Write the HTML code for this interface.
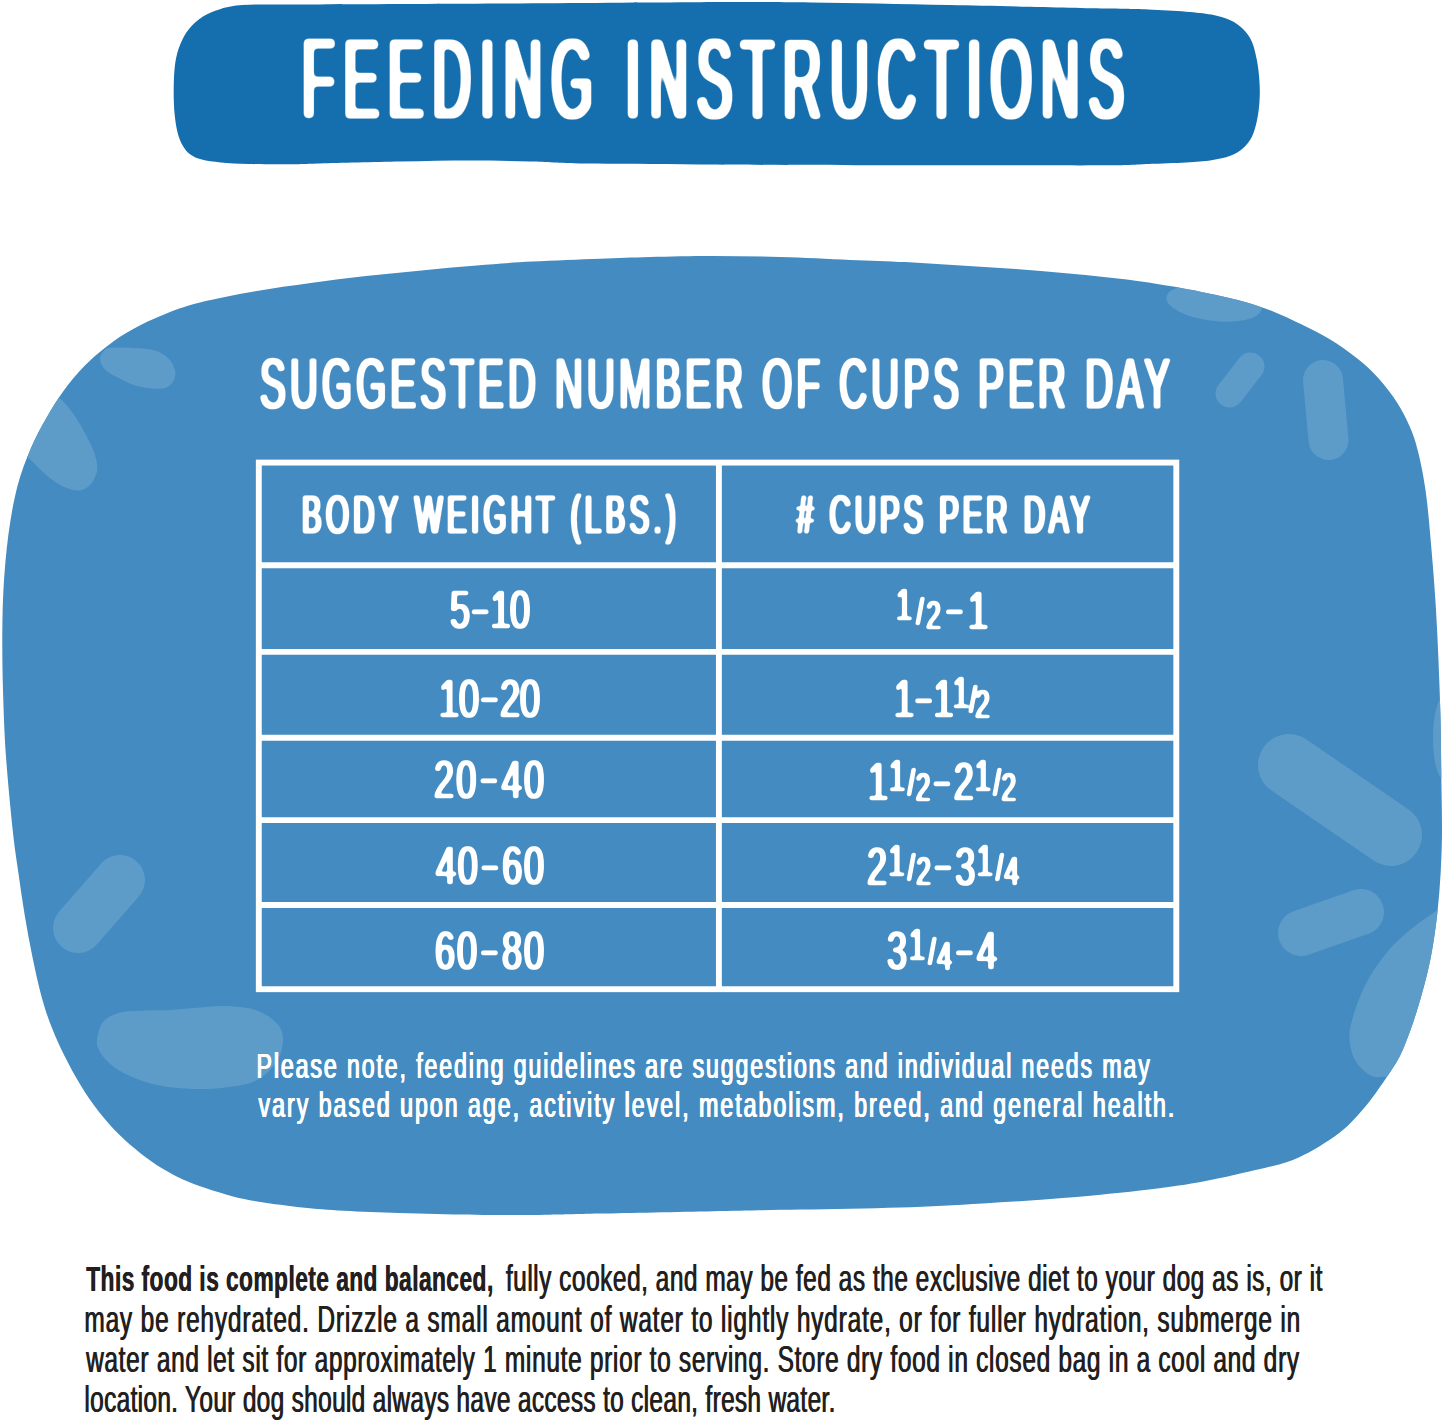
<!DOCTYPE html>
<html lang="en">
<head>
<meta charset="utf-8">
<title>Feeding Instructions</title>
<style>
html,body{margin:0;padding:0;background:#fff}
svg{display:block}
</style>
</head>
<body>
<svg width="1445" height="1421" viewBox="0 0 1445 1421" font-family='"Liberation Sans", sans-serif' xml:space="preserve">
<defs>
<filter id="hb3" x="-5%" y="-25%" width="110%" height="150%"><feMorphology operator="dilate" radius="2 0"/><feGaussianBlur stdDeviation="2"/><feComponentTransfer><feFuncA type="linear" slope="5" intercept="-1.5"/></feComponentTransfer></filter>
<filter id="hb2" x="-5%" y="-25%" width="110%" height="150%"><feMorphology operator="dilate" radius="1.3 0.2"/><feGaussianBlur stdDeviation="1.2"/><feComponentTransfer><feFuncA type="linear" slope="3.2" intercept="-0.46"/></feComponentTransfer></filter>
<filter id="hb1" x="-5%" y="-25%" width="110%" height="150%"><feMorphology operator="dilate" radius="1.3 0.2"/><feGaussianBlur stdDeviation="1.2"/><feComponentTransfer><feFuncA type="linear" slope="3.2" intercept="-0.8"/></feComponentTransfer></filter>
<filter id="pb" x="-5%" y="-25%" width="110%" height="150%"><feMorphology operator="dilate" radius="0.45 0"/></filter>
<clipPath id="blobclip"><path d="M713.0 256.0 C734.7 256.0 757.2 256.4 780.0 257.0 C802.8 257.6 829.1 259.0 850.0 259.9 C870.9 260.8 886.9 261.2 905.4 262.1 C923.9 263.0 942.3 264.4 960.7 265.5 C979.1 266.6 997.5 267.6 1016.0 269.0 C1034.5 270.4 1053.0 272.0 1071.5 273.8 C1090.0 275.6 1108.3 277.2 1126.8 279.6 C1145.2 282.0 1167.5 285.7 1182.2 288.2 C1196.9 290.7 1204.5 292.5 1215.0 294.8 C1225.5 297.1 1235.3 299.2 1245.0 302.0 C1254.7 304.8 1263.7 307.8 1273.1 311.5 C1282.5 315.2 1291.9 319.7 1301.3 324.3 C1310.7 328.9 1320.0 333.4 1329.4 339.1 C1338.8 344.9 1349.4 352.2 1357.6 358.8 C1365.8 365.4 1372.1 371.2 1378.7 378.5 C1385.3 385.8 1391.8 394.4 1397.0 402.4 C1402.2 410.4 1406.2 418.2 1409.7 426.4 C1413.2 434.6 1415.4 440.7 1418.1 451.7 C1420.8 462.7 1423.6 476.1 1425.8 492.2 C1428.0 508.3 1429.8 529.7 1431.4 548.5 C1433.1 567.3 1434.5 586.0 1435.7 604.8 C1436.9 623.5 1437.7 642.2 1438.5 661.0 C1439.3 679.8 1440.0 698.6 1440.5 717.4 C1441.0 736.2 1441.0 754.9 1441.3 773.7 C1441.5 792.5 1442.1 813.6 1442.0 830.0 C1441.9 846.4 1441.5 858.1 1440.7 872.2 C1439.9 886.3 1438.8 900.3 1437.2 914.4 C1435.6 928.5 1433.4 943.8 1430.9 956.7 C1428.4 969.6 1425.7 980.0 1422.4 991.9 C1419.1 1003.8 1415.0 1017.3 1411.2 1028.0 C1407.4 1038.7 1403.8 1048.2 1399.8 1056.3 C1395.8 1064.4 1391.7 1069.7 1387.0 1076.7 C1382.3 1083.7 1376.6 1092.0 1371.7 1098.5 C1366.8 1105.0 1362.3 1110.2 1357.6 1115.4 C1352.9 1120.6 1348.2 1125.4 1343.5 1129.5 C1338.8 1133.6 1335.3 1136.1 1329.4 1140.0 C1323.5 1143.9 1315.3 1149.0 1308.3 1152.7 C1301.3 1156.4 1295.2 1159.2 1287.2 1161.9 C1279.2 1164.6 1273.8 1165.8 1260.0 1169.0 C1246.2 1172.2 1223.0 1177.8 1204.5 1181.2 C1186.0 1184.6 1172.1 1186.7 1149.0 1189.5 C1125.9 1192.3 1093.7 1195.5 1066.0 1197.8 C1038.3 1200.1 1010.7 1201.8 983.0 1203.4 C955.3 1205.0 930.5 1206.5 900.0 1207.5 C869.5 1208.5 831.2 1209.0 800.0 1209.6 C768.8 1210.2 746.3 1210.5 713.0 1211.2 C679.7 1211.9 627.2 1213.0 600.0 1213.6 C572.8 1214.2 565.0 1214.5 550.0 1214.7 C535.0 1214.9 525.9 1215.0 510.0 1215.0 C494.1 1215.0 473.0 1214.7 454.5 1214.4 C436.0 1214.1 417.4 1213.6 399.0 1213.0 C380.6 1212.4 359.9 1211.7 343.8 1210.8 C327.7 1209.9 316.1 1209.0 302.2 1207.5 C288.3 1206.0 272.2 1203.8 260.7 1202.0 C249.2 1200.2 242.2 1198.7 233.0 1196.4 C223.8 1194.1 213.7 1190.9 205.4 1188.1 C197.1 1185.3 190.2 1182.7 183.0 1179.4 C175.8 1176.1 169.0 1172.5 161.9 1168.2 C154.8 1163.9 147.8 1158.9 140.7 1153.4 C133.6 1147.9 126.6 1142.1 119.6 1135.1 C112.6 1128.1 105.1 1119.7 98.5 1111.2 C91.9 1102.8 85.8 1093.6 80.2 1084.4 C74.6 1075.2 69.4 1065.7 64.7 1056.3 C60.0 1046.9 55.8 1037.6 52.0 1028.0 C48.2 1018.4 45.5 1010.8 42.2 998.9 C38.9 987.0 35.3 970.8 32.4 956.7 C29.5 942.6 27.0 928.5 24.6 914.4 C22.2 900.3 20.3 886.3 18.3 872.2 C16.3 858.1 14.7 848.8 12.7 830.0 C10.7 811.2 7.8 780.8 6.2 759.6 C4.7 738.4 4.0 721.8 3.4 703.0 C2.8 684.2 2.3 665.7 2.3 647.0 C2.3 628.3 2.4 609.5 3.4 590.7 C4.4 571.9 6.1 551.9 8.4 534.4 C10.8 516.9 13.7 500.4 17.5 486.0 C21.3 471.6 26.2 459.4 31.0 448.0 C35.8 436.6 41.0 427.4 46.4 417.9 C51.8 408.4 57.0 399.9 63.3 391.2 C69.6 382.5 76.2 374.1 84.4 365.9 C92.6 357.7 103.2 348.7 112.6 341.9 C122.0 335.1 131.3 329.9 140.7 325.0 C150.1 320.1 159.0 316.2 168.9 312.4 C178.8 308.6 185.6 305.9 200.0 302.4 C214.4 298.9 237.0 294.4 255.4 291.2 C273.9 287.9 292.3 285.4 310.7 282.9 C329.1 280.4 347.5 278.1 366.0 276.0 C384.5 273.9 403.0 272.1 421.5 270.4 C440.0 268.6 458.4 267.0 476.8 265.5 C495.2 264.0 511.7 262.7 532.2 261.6 C552.7 260.5 580.4 259.6 600.0 258.8 C619.6 258.0 631.2 257.5 650.0 257.0 C668.8 256.5 691.3 256.0 713.0 256.0Z"/></clipPath>
</defs>
<rect width="1445" height="1421" fill="#fff"/>
<!-- header banner -->
<path id="banner" fill="#156fae" d="M320.0 4.4 C357.7 4.2 436.7 3.9 500.0 3.5 C563.3 3.1 648.2 2.4 700.0 2.2 C751.8 2.0 769.3 2.0 811.0 2.5 C852.7 3.0 900.2 4.0 950.0 5.0 C999.8 6.0 1077.0 7.8 1110.0 8.6 C1143.0 9.3 1135.3 9.0 1148.0 9.5 C1160.7 10.0 1175.5 10.8 1186.0 11.7 C1196.5 12.5 1203.9 13.2 1211.3 14.6 C1218.7 16.0 1225.0 17.9 1230.3 20.3 C1235.6 22.7 1239.4 25.4 1243.0 29.0 C1246.6 32.6 1249.6 36.5 1251.9 41.8 C1254.2 47.1 1255.7 54.0 1257.0 60.8 C1258.3 67.5 1259.1 75.5 1259.5 82.3 C1259.9 89.0 1259.9 95.0 1259.5 101.3 C1259.1 107.6 1258.3 114.4 1257.0 120.3 C1255.7 126.2 1254.2 132.2 1251.9 136.8 C1249.6 141.5 1246.6 145.0 1243.0 148.2 C1239.4 151.4 1235.6 153.8 1230.3 155.8 C1225.0 157.8 1218.7 159.1 1211.3 160.2 C1203.9 161.3 1196.5 161.9 1186.0 162.5 C1175.5 163.1 1160.7 163.5 1148.0 164.0 C1135.3 164.5 1134.7 165.1 1110.0 165.3 C1085.3 165.5 1040.5 165.3 1000.0 165.3 C959.5 165.3 917.0 165.4 867.0 165.3 C817.0 165.2 747.2 164.8 700.0 164.5 C652.8 164.2 612.3 164.1 584.0 163.6 C555.7 163.1 549.0 162.1 530.0 161.6 C511.0 161.1 491.7 160.5 470.0 160.5 C448.3 160.5 425.0 161.0 400.0 161.5 C375.0 162.0 338.9 162.9 320.0 163.4 C301.1 163.9 298.6 164.2 286.7 164.3 C274.8 164.4 259.7 164.3 248.7 164.0 C237.7 163.7 228.6 163.1 220.8 162.4 C213.0 161.7 206.9 160.9 201.8 159.6 C196.7 158.3 193.6 156.8 190.4 154.5 C187.2 152.2 184.9 149.3 182.8 145.7 C180.7 142.1 179.1 138.3 177.7 133.0 C176.3 127.7 175.3 121.4 174.6 114.0 C173.9 106.6 173.6 97.2 173.7 88.7 C173.8 80.2 174.1 70.7 175.2 63.3 C176.3 55.9 178.0 50.0 180.3 44.3 C182.6 38.6 185.2 33.6 189.0 29.0 C192.8 24.4 197.7 19.9 203.0 16.5 C208.3 13.2 214.2 10.8 220.8 8.9 C227.4 7.0 233.4 5.8 242.3 5.1 C251.2 4.3 261.1 4.5 274.0 4.4 C286.9 4.3 282.3 4.6 320.0 4.4Z"/>
<!-- blob -->
<path id="blob" fill="#438bc0" d="M713.0 256.0 C734.7 256.0 757.2 256.4 780.0 257.0 C802.8 257.6 829.1 259.0 850.0 259.9 C870.9 260.8 886.9 261.2 905.4 262.1 C923.9 263.0 942.3 264.4 960.7 265.5 C979.1 266.6 997.5 267.6 1016.0 269.0 C1034.5 270.4 1053.0 272.0 1071.5 273.8 C1090.0 275.6 1108.3 277.2 1126.8 279.6 C1145.2 282.0 1167.5 285.7 1182.2 288.2 C1196.9 290.7 1204.5 292.5 1215.0 294.8 C1225.5 297.1 1235.3 299.2 1245.0 302.0 C1254.7 304.8 1263.7 307.8 1273.1 311.5 C1282.5 315.2 1291.9 319.7 1301.3 324.3 C1310.7 328.9 1320.0 333.4 1329.4 339.1 C1338.8 344.9 1349.4 352.2 1357.6 358.8 C1365.8 365.4 1372.1 371.2 1378.7 378.5 C1385.3 385.8 1391.8 394.4 1397.0 402.4 C1402.2 410.4 1406.2 418.2 1409.7 426.4 C1413.2 434.6 1415.4 440.7 1418.1 451.7 C1420.8 462.7 1423.6 476.1 1425.8 492.2 C1428.0 508.3 1429.8 529.7 1431.4 548.5 C1433.1 567.3 1434.5 586.0 1435.7 604.8 C1436.9 623.5 1437.7 642.2 1438.5 661.0 C1439.3 679.8 1440.0 698.6 1440.5 717.4 C1441.0 736.2 1441.0 754.9 1441.3 773.7 C1441.5 792.5 1442.1 813.6 1442.0 830.0 C1441.9 846.4 1441.5 858.1 1440.7 872.2 C1439.9 886.3 1438.8 900.3 1437.2 914.4 C1435.6 928.5 1433.4 943.8 1430.9 956.7 C1428.4 969.6 1425.7 980.0 1422.4 991.9 C1419.1 1003.8 1415.0 1017.3 1411.2 1028.0 C1407.4 1038.7 1403.8 1048.2 1399.8 1056.3 C1395.8 1064.4 1391.7 1069.7 1387.0 1076.7 C1382.3 1083.7 1376.6 1092.0 1371.7 1098.5 C1366.8 1105.0 1362.3 1110.2 1357.6 1115.4 C1352.9 1120.6 1348.2 1125.4 1343.5 1129.5 C1338.8 1133.6 1335.3 1136.1 1329.4 1140.0 C1323.5 1143.9 1315.3 1149.0 1308.3 1152.7 C1301.3 1156.4 1295.2 1159.2 1287.2 1161.9 C1279.2 1164.6 1273.8 1165.8 1260.0 1169.0 C1246.2 1172.2 1223.0 1177.8 1204.5 1181.2 C1186.0 1184.6 1172.1 1186.7 1149.0 1189.5 C1125.9 1192.3 1093.7 1195.5 1066.0 1197.8 C1038.3 1200.1 1010.7 1201.8 983.0 1203.4 C955.3 1205.0 930.5 1206.5 900.0 1207.5 C869.5 1208.5 831.2 1209.0 800.0 1209.6 C768.8 1210.2 746.3 1210.5 713.0 1211.2 C679.7 1211.9 627.2 1213.0 600.0 1213.6 C572.8 1214.2 565.0 1214.5 550.0 1214.7 C535.0 1214.9 525.9 1215.0 510.0 1215.0 C494.1 1215.0 473.0 1214.7 454.5 1214.4 C436.0 1214.1 417.4 1213.6 399.0 1213.0 C380.6 1212.4 359.9 1211.7 343.8 1210.8 C327.7 1209.9 316.1 1209.0 302.2 1207.5 C288.3 1206.0 272.2 1203.8 260.7 1202.0 C249.2 1200.2 242.2 1198.7 233.0 1196.4 C223.8 1194.1 213.7 1190.9 205.4 1188.1 C197.1 1185.3 190.2 1182.7 183.0 1179.4 C175.8 1176.1 169.0 1172.5 161.9 1168.2 C154.8 1163.9 147.8 1158.9 140.7 1153.4 C133.6 1147.9 126.6 1142.1 119.6 1135.1 C112.6 1128.1 105.1 1119.7 98.5 1111.2 C91.9 1102.8 85.8 1093.6 80.2 1084.4 C74.6 1075.2 69.4 1065.7 64.7 1056.3 C60.0 1046.9 55.8 1037.6 52.0 1028.0 C48.2 1018.4 45.5 1010.8 42.2 998.9 C38.9 987.0 35.3 970.8 32.4 956.7 C29.5 942.6 27.0 928.5 24.6 914.4 C22.2 900.3 20.3 886.3 18.3 872.2 C16.3 858.1 14.7 848.8 12.7 830.0 C10.7 811.2 7.8 780.8 6.2 759.6 C4.7 738.4 4.0 721.8 3.4 703.0 C2.8 684.2 2.3 665.7 2.3 647.0 C2.3 628.3 2.4 609.5 3.4 590.7 C4.4 571.9 6.1 551.9 8.4 534.4 C10.8 516.9 13.7 500.4 17.5 486.0 C21.3 471.6 26.2 459.4 31.0 448.0 C35.8 436.6 41.0 427.4 46.4 417.9 C51.8 408.4 57.0 399.9 63.3 391.2 C69.6 382.5 76.2 374.1 84.4 365.9 C92.6 357.7 103.2 348.7 112.6 341.9 C122.0 335.1 131.3 329.9 140.7 325.0 C150.1 320.1 159.0 316.2 168.9 312.4 C178.8 308.6 185.6 305.9 200.0 302.4 C214.4 298.9 237.0 294.4 255.4 291.2 C273.9 287.9 292.3 285.4 310.7 282.9 C329.1 280.4 347.5 278.1 366.0 276.0 C384.5 273.9 403.0 272.1 421.5 270.4 C440.0 268.6 458.4 267.0 476.8 265.5 C495.2 264.0 511.7 262.7 532.2 261.6 C552.7 260.5 580.4 259.6 600.0 258.8 C619.6 258.0 631.2 257.5 650.0 257.0 C668.8 256.5 691.3 256.0 713.0 256.0Z"/>
<g clip-path="url(#blobclip)" fill="#5d9cc8" stroke="#5d9cc8" stroke-linecap="round">
<path stroke="none" d="M100.0 358.8 C100.0 355.8 102.1 352.3 104.2 350.4 C106.3 348.5 107.7 348.0 112.6 347.6 C117.5 347.2 126.7 347.5 133.7 348.0 C140.7 348.5 148.9 348.6 154.8 350.4 C160.7 352.2 165.5 355.3 168.9 358.8 C172.3 362.3 174.5 367.8 175.2 371.5 C175.9 375.2 174.6 378.6 173.1 381.3 C171.6 384.0 169.5 386.5 166.0 387.7 C162.5 388.9 157.4 388.9 152.0 388.4 C146.6 387.9 139.6 386.8 133.7 384.9 C127.8 383.0 121.7 379.8 116.8 377.1 C111.9 374.4 107.0 371.8 104.2 368.7 C101.4 365.6 100.0 361.9 100.0 358.8Z"/>
<path stroke="none" d="M56.0 396.0 C61.0 398.0 67.0 405.5 72.0 412.0 C77.0 418.5 82.2 427.8 86.0 435.0 C89.8 442.2 93.2 449.0 95.0 455.0 C96.8 461.0 97.8 466.0 97.0 471.0 C96.2 476.0 93.0 481.8 90.0 485.0 C87.0 488.2 83.7 490.3 79.0 490.5 C74.3 490.7 67.7 488.8 62.0 486.0 C56.3 483.2 49.8 478.0 45.0 474.0 C40.2 470.0 36.8 466.3 33.0 462.0 C29.2 457.7 22.8 455.0 22.0 448.0 C21.2 441.0 24.7 428.0 28.0 420.0 C31.3 412.0 37.3 404.0 42.0 400.0 C46.7 396.0 51.0 394.0 56.0 396.0Z"/>
<ellipse cx="1214" cy="303" rx="48" ry="18" transform="rotate(7 1214 303)" stroke="none"/>
<line x1="1229.5" y1="393.5" x2="1250.5" y2="366.5" stroke-width="28"/>
<line x1="1323" y1="380" x2="1328.5" y2="440" stroke-width="40"/>
<line x1="78" y1="928" x2="120" y2="880" stroke-width="50"/>
<path stroke="none" d="M97.0 1040.0 C97.7 1035.3 99.2 1026.5 103.0 1022.0 C106.8 1017.5 112.6 1014.6 119.6 1012.7 C126.6 1010.8 136.8 1011.0 145.0 1010.5 C153.2 1010.0 159.8 1010.5 169.0 1010.0 C178.2 1009.5 190.7 1008.2 200.0 1007.5 C209.3 1006.8 216.7 1005.8 225.0 1006.0 C233.3 1006.2 242.9 1006.9 250.0 1008.5 C257.1 1010.1 262.6 1012.9 267.4 1015.8 C272.2 1018.7 276.4 1022.3 279.0 1026.0 C281.6 1029.7 282.8 1033.2 283.0 1038.0 C283.2 1042.8 282.2 1049.7 280.0 1055.0 C277.8 1060.3 274.5 1065.5 270.0 1070.0 C265.5 1074.5 260.5 1079.1 253.0 1082.0 C245.5 1084.9 234.3 1086.3 225.0 1087.5 C215.7 1088.7 207.0 1089.2 197.0 1089.0 C187.0 1088.8 174.3 1087.9 165.0 1086.5 C155.7 1085.1 148.5 1083.1 141.0 1080.5 C133.5 1077.9 125.7 1074.2 120.0 1071.0 C114.3 1067.8 110.5 1064.5 107.0 1061.0 C103.5 1057.5 100.7 1053.5 99.0 1050.0 C97.3 1046.5 96.3 1044.7 97.0 1040.0Z"/>
<line x1="1289" y1="765" x2="1391" y2="835" stroke-width="62"/>
<line x1="1301" y1="933" x2="1361" y2="912" stroke-width="46"/>
<path stroke="none" d="M1445.0 900.0 C1441.2 893.3 1441.9 905.7 1437.0 910.0 C1432.1 914.3 1422.5 920.0 1415.4 925.7 C1408.3 931.4 1400.6 937.5 1394.3 944.0 C1388.0 950.5 1382.6 957.5 1377.4 965.0 C1372.2 972.5 1367.5 979.8 1363.3 989.0 C1359.1 998.2 1354.3 1011.5 1352.0 1020.0 C1349.7 1028.5 1349.0 1033.3 1349.5 1040.0 C1350.0 1046.7 1351.9 1054.3 1355.0 1060.0 C1358.1 1065.7 1363.7 1071.2 1368.0 1074.0 C1372.3 1076.8 1375.7 1077.7 1381.0 1077.0 C1386.3 1076.3 1391.8 1077.8 1400.0 1070.0 C1408.2 1062.2 1420.0 1050.0 1430.0 1030.0 C1440.0 1010.0 1457.5 971.7 1460.0 950.0 C1462.5 928.3 1448.8 906.7 1445.0 900.0Z"/>
<ellipse cx="1443.5" cy="738" rx="10.5" ry="41" stroke="none"/>
</g>
<!-- table -->
<g fill="none" stroke="#fff" stroke-width="5.9">
<rect x="258.8" y="462.6" width="917.5" height="526.6"/>
<line x1="718.9" y1="462.6" x2="718.9" y2="989.2"/>
<line x1="258.8" y1="565.2" x2="1176.3" y2="565.2"/>
<line x1="258.8" y1="651.9" x2="1176.3" y2="651.9"/>
<line x1="258.8" y1="737.8" x2="1176.3" y2="737.8"/>
<line x1="258.8" y1="820.1" x2="1176.3" y2="820.1"/>
<line x1="258.8" y1="905" x2="1176.3" y2="905"/>
</g>
<g filter="url(#hb3)"><text id="h1" transform="translate(302.00 118.30) scale(0.4700 1)" font-size="113" font-weight="400" fill="#fff" letter-spacing="19.36">FEEDING INSTRUCTIONS</text></g>
<g filter="url(#hb2)"><text id="h2" transform="translate(260.00 408.20) scale(0.5450 1)" font-size="70.5" font-weight="400" fill="#fff" letter-spacing="7.91">SUGGESTED NUMBER OF CUPS PER DAY</text></g>
<g filter="url(#hb2)"><text id="th1" transform="translate(302.00 533.30) scale(0.5400 1)" font-size="54.5" font-weight="400" fill="#fff" letter-spacing="8.08">BODY WEIGHT (LBS.)</text></g>
<g filter="url(#hb2)"><text id="th2" transform="translate(797.00 533.30) scale(0.5400 1)" font-size="54.5" font-weight="400" fill="#fff" letter-spacing="7.34"># CUPS PER DAY</text></g>
<g filter="url(#hb1)"><text id="a1" transform="translate(450.00 628.20) scale(0.6600 1)" font-size="54.5" font-weight="400" fill="#fff" letter-spacing="-0.62"><tspan font-size="54.5" font-weight="400">5</tspan><tspan font-size="43.1" font-weight="700" dy="-5.67" dx="4.09">&#8211;</tspan><tspan font-size="54.5" font-weight="400" dy="5.67" dx="4.09">1</tspan><tspan font-size="54.5" font-weight="400">0</tspan></text></g>
<g filter="url(#hb1)"><text id="a2" transform="translate(439.00 716.70) scale(0.6600 1)" font-size="54.5" font-weight="400" fill="#fff" letter-spacing="-0.09"><tspan font-size="54.5" font-weight="400">1</tspan><tspan font-size="54.5" font-weight="400">0</tspan><tspan font-size="43.1" font-weight="700" dy="-5.67" dx="4.09">&#8211;</tspan><tspan font-size="54.5" font-weight="400" dy="5.67" dx="4.09">2</tspan><tspan font-size="54.5" font-weight="400">0</tspan></text></g>
<g filter="url(#hb1)"><text id="a3" transform="translate(434.00 797.70) scale(0.6600 1)" font-size="54.5" font-weight="400" fill="#fff" letter-spacing="3.32"><tspan font-size="54.5" font-weight="400">2</tspan><tspan font-size="54.5" font-weight="400">0</tspan><tspan font-size="43.1" font-weight="700" dy="-5.67" dx="4.09">&#8211;</tspan><tspan font-size="54.5" font-weight="400" dy="5.67" dx="4.09">4</tspan><tspan font-size="54.5" font-weight="400">0</tspan></text></g>
<g filter="url(#hb1)"><text id="a4" transform="translate(436.00 884.20) scale(0.6600 1)" font-size="54.5" font-weight="400" fill="#fff" letter-spacing="2.56"><tspan font-size="54.5" font-weight="400">4</tspan><tspan font-size="54.5" font-weight="400">0</tspan><tspan font-size="43.1" font-weight="700" dy="-5.67" dx="4.09">&#8211;</tspan><tspan font-size="54.5" font-weight="400" dy="5.67" dx="4.09">6</tspan><tspan font-size="54.5" font-weight="400">0</tspan></text></g>
<g filter="url(#hb1)"><text id="a5" transform="translate(435.00 969.20) scale(0.6600 1)" font-size="54.5" font-weight="400" fill="#fff" letter-spacing="2.94"><tspan font-size="54.5" font-weight="400">6</tspan><tspan font-size="54.5" font-weight="400">0</tspan><tspan font-size="43.1" font-weight="700" dy="-5.67" dx="4.09">&#8211;</tspan><tspan font-size="54.5" font-weight="400" dy="5.67" dx="4.09">8</tspan><tspan font-size="54.5" font-weight="400">0</tspan></text></g>
<g filter="url(#hb1)"><text id="b1" transform="translate(896.00 628.70) scale(0.6600 1)" font-size="54.5" font-weight="400" fill="#fff" letter-spacing="4.44"><tspan font-size="43.6" font-weight="400" dy="-8.99">1</tspan><tspan font-size="39.2" font-weight="400" dy="5.18" dx="2.45">/</tspan><tspan font-size="39.8" font-weight="400" dy="4.36" dx="-0.55">2</tspan><tspan font-size="43.1" font-weight="700" dy="-6.21" dx="4.09">&#8211;</tspan><tspan font-size="54.5" font-weight="400" dy="5.67" dx="4.09">1</tspan></text></g>
<g filter="url(#hb1)"><text id="b2" transform="translate(894.00 717.20) scale(0.6600 1)" font-size="54.5" font-weight="400" fill="#fff" letter-spacing="-1.30"><tspan font-size="54.5" font-weight="400">1</tspan><tspan font-size="43.1" font-weight="700" dy="-5.67" dx="4.09">&#8211;</tspan><tspan font-size="54.5" font-weight="400" dy="5.67" dx="4.09">1</tspan><tspan font-size="43.6" font-weight="400" dy="-8.99">1</tspan><tspan font-size="39.2" font-weight="400" dy="5.18" dx="2.45">/</tspan><tspan font-size="39.8" font-weight="400" dy="4.36" dx="-0.55">2</tspan></text></g>
<g filter="url(#hb1)"><text id="b3" transform="translate(868.00 800.20) scale(0.6600 1)" font-size="54.5" font-weight="400" fill="#fff" letter-spacing="1.64"><tspan font-size="54.5" font-weight="400">1</tspan><tspan font-size="43.6" font-weight="400" dy="-8.99">1</tspan><tspan font-size="39.2" font-weight="400" dy="5.18" dx="2.45">/</tspan><tspan font-size="39.8" font-weight="400" dy="4.36" dx="-0.55">2</tspan><tspan font-size="43.1" font-weight="700" dy="-6.21" dx="4.09">&#8211;</tspan><tspan font-size="54.5" font-weight="400" dy="5.67" dx="4.09">2</tspan><tspan font-size="43.6" font-weight="400" dy="-8.99">1</tspan><tspan font-size="39.2" font-weight="400" dy="5.18" dx="2.45">/</tspan><tspan font-size="39.8" font-weight="400" dy="4.36" dx="-0.55">2</tspan></text></g>
<g filter="url(#hb1)"><text id="b4" transform="translate(867.00 884.70) scale(0.6600 1)" font-size="54.5" font-weight="400" fill="#fff" letter-spacing="2.40"><tspan font-size="54.5" font-weight="400">2</tspan><tspan font-size="43.6" font-weight="400" dy="-8.99">1</tspan><tspan font-size="39.2" font-weight="400" dy="5.18" dx="2.45">/</tspan><tspan font-size="39.8" font-weight="400" dy="4.36" dx="-0.55">2</tspan><tspan font-size="43.1" font-weight="700" dy="-6.21" dx="4.09">&#8211;</tspan><tspan font-size="54.5" font-weight="400" dy="5.67" dx="4.09">3</tspan><tspan font-size="43.6" font-weight="400" dy="-8.99">1</tspan><tspan font-size="39.2" font-weight="400" dy="5.18" dx="2.45">/</tspan><tspan font-size="39.8" font-weight="400" dy="4.36" dx="-0.55">4</tspan></text></g>
<g filter="url(#hb1)"><text id="b5" transform="translate(887.00 969.20) scale(0.6600 1)" font-size="54.5" font-weight="400" fill="#fff" letter-spacing="2.94"><tspan font-size="54.5" font-weight="400">3</tspan><tspan font-size="43.6" font-weight="400" dy="-8.99">1</tspan><tspan font-size="39.2" font-weight="400" dy="5.18" dx="2.45">/</tspan><tspan font-size="39.8" font-weight="400" dy="4.36" dx="-0.55">4</tspan><tspan font-size="43.1" font-weight="700" dy="-6.21" dx="4.09">&#8211;</tspan><tspan font-size="54.5" font-weight="400" dy="5.67" dx="4.09">4</tspan></text></g>
<text id="n1" transform="translate(256.00 1077.50) scale(0.6600 1)" font-size="35" font-weight="400" fill="#fff" letter-spacing="2.90">Please note, feeding guidelines are suggestions and individual needs may</text><use href="#n1" x="0.55"/><use href="#n1" x="1.10"/>
<text id="n2" transform="translate(258.00 1117.00) scale(0.6600 1)" font-size="35" font-weight="400" fill="#fff" letter-spacing="3.06">vary based upon age, activity level, metabolism, breed, and general health.</text><use href="#n2" x="0.55"/><use href="#n2" x="1.10"/>
<text id="p1a" transform="translate(86.00 1291.00) scale(0.6400 1)" font-size="35.5" font-weight="700" fill="#231f20" letter-spacing="0.72">This food is complete and balanced,</text><use href="#p1a" x="0.50"/>
<text id="p1b" transform="translate(505.50 1291.00) scale(0.6800 1)" font-size="36" font-weight="400" fill="#231f20" letter-spacing="0.74">fully cooked, and may be fed as the exclusive diet to your dog as is, or it</text><use href="#p1b" x="0.75"/>
<text id="p2" transform="translate(84.00 1332.00) scale(0.6800 1)" font-size="36" font-weight="400" fill="#231f20" letter-spacing="1.19">may be rehydrated. Drizzle a small amount of water to lightly hydrate, or for fuller hydration, submerge in</text><use href="#p2" x="0.75"/>
<text id="p3" transform="translate(85.68 1372.00) scale(0.6800 1)" font-size="36" font-weight="400" fill="#231f20" letter-spacing="1.00">water and let sit for approximately 1 minute prior to serving. Store dry food in closed bag in a cool and dry</text><use href="#p3" x="0.75"/>
<text id="p4" transform="translate(84.00 1412.00) scale(0.6800 1)" font-size="36" font-weight="400" fill="#231f20" letter-spacing="0.46">location. Your dog should always have access to clean, fresh water.</text><use href="#p4" x="0.75"/>
</svg>
</body>
</html>
